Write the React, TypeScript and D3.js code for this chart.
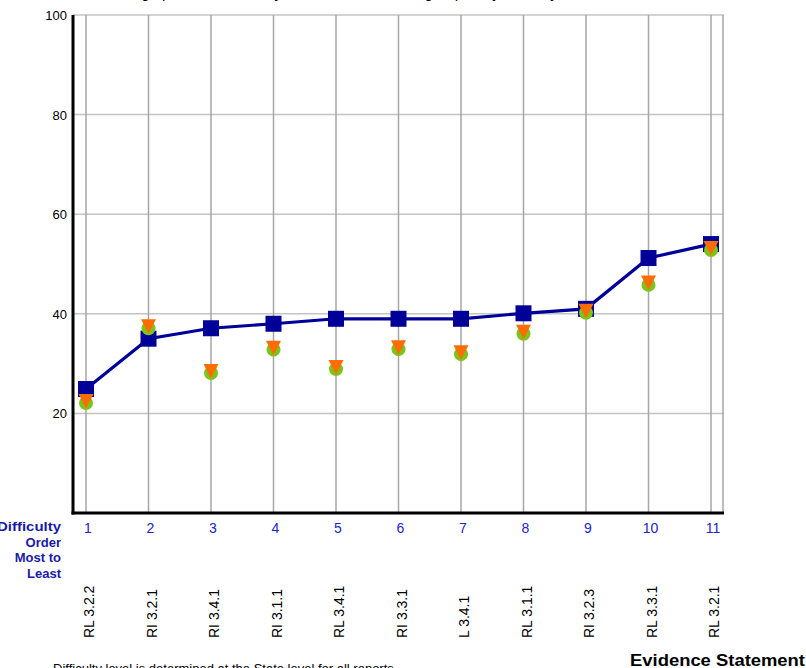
import React from "react";
import * as d3 from "d3";

const categories = [1, 2, 3, 4, 5, 6, 7, 8, 9, 10, 11];
const evidenceLabels = [
  "RL 3.2.2", "RI 3.2.1", "RI 3.4.1", "RI 3.1.1", "RL 3.4.1", "RI 3.3.1",
  "L 3.4.1", "RL 3.1.1", "RI 3.2.3", "RL 3.3.1", "RL 3.2.1",
];
const stateValues = [24.9, 35.0, 37.1, 38.0, 39.0, 39.0, 39.0, 40.1, 41.0, 51.2, 54.0];
const circleValues = [22.1, 37.1, 28.1, 32.8, 28.9, 32.9, 31.9, 36.0, 40.2, 45.8, 52.8];
const triangleValues = [22.3, 37.3, 28.3, 33.0, 29.1, 33.1, 32.1, 36.2, 40.4, 46.1, 53.0];
const yTicks = [20, 40, 60, 80, 100];
const difficultyLines = ["Difficulty", "Order", "Most to", "Least"];

const W = 806;
const H = 668;
const FONT = "Arial, 'Liberation Sans', Helvetica, sans-serif";

export default function App() {
  const x = d3.scalePoint<number>().domain(categories).range([86, 711]);
  const y = d3.scaleLinear().domain([0, 100]).range([513, 15]);
  const left = 73;
  const right = 724;
  const bottom = 513;
  const top = y(100);

  const lineGen = d3
    .line<number>()
    .x((_, i) => x(categories[i]) as number)
    .y((d) => y(d));

  const tri = "M -7.5 -8 L 7.5 -8 L 0 6.5 Z";

  return (
    <svg
      width={W}
      height={H}
      style={{ position: "absolute", left: 0, top: 0, background: "#fff" }}
      fontFamily={FONT}
    >
      {/* clipped title */}
      <text x={330} y={-2} fontSize={15} textAnchor="middle" fill="#000">
        Average percent correct by evidence statement, grouped by difficulty
      </text>

      {/* horizontal grid */}
      {yTicks.map((t) => (
        <line key={"h" + t} x1={left} x2={right} y1={y(t)} y2={y(t)} stroke="#c4c4c4" strokeWidth={1.5} />
      ))}
      {/* vertical grid */}
      {categories.map((c) => (
        <line key={"v" + c} x1={x(c)} x2={x(c)} y1={top} y2={bottom} stroke="#a6a6a6" strokeWidth={1.5} />
      ))}
      <line x1={right - 1} x2={right - 1} y1={top} y2={bottom} stroke="#a6a6a6" strokeWidth={1.5} />

      {/* axes */}
      <line x1={left} x2={left} y1={top} y2={bottom + 1.5} stroke="#000" strokeWidth={3} />
      <line x1={left - 1.5} x2={right} y1={bottom} y2={bottom} stroke="#000" strokeWidth={3} />

      {/* y tick labels */}
      {yTicks.map((t) => (
        <text key={"yl" + t} x={67} y={y(t) + 5} fontSize={13} textAnchor="end" fill="#000">
          {t}
        </text>
      ))}

      {/* series line */}
      <path d={lineGen(stateValues) || ""} fill="none" stroke="#000099" strokeWidth={3.2} />
      {stateValues.map((v, i) => (
        <rect
          key={"s" + i}
          x={(x(categories[i]) as number) - 8}
          y={y(v) - 8}
          width={16}
          height={16}
          fill="#000099"
        />
      ))}
      {circleValues.map((v, i) => (
        <circle key={"c" + i} cx={x(categories[i])} cy={y(v)} r={7} fill="#7cc41c" />
      ))}
      {triangleValues.map((v, i) => (
        <path
          key={"t" + i}
          d={tri}
          transform={`translate(${x(categories[i])},${y(v)})`}
          fill="#ff6c00"
        />
      ))}

      {/* x category numbers */}
      {categories.map((c) => (
        <text key={"xn" + c} x={(x(c) as number) + 2} y={533} fontSize={14} textAnchor="middle" fill="#2323c8">
          {c}
        </text>
      ))}

      {/* difficulty label */}
      {difficultyLines.map((s, i) => (
        <text
          key={"d" + i}
          x={61}
          y={531 + i * 15.5}
          fontSize={13}
          fontWeight="bold"
          textAnchor="end"
          fill="#1a1aa8"
          textLength={i === 0 ? 64 : undefined}
          lengthAdjust="spacingAndGlyphs"
        >
          {s}
        </text>
      ))}

      {/* rotated evidence labels */}
      {categories.map((c, i) => (
        <text
          key={"el" + c}
          transform={`translate(${(x(c) as number) + 8},638) rotate(-90)`}
          fontSize={14}
          textAnchor="start"
          fill="#000"
        >
          {evidenceLabels[i]}
        </text>
      ))}

      {/* footer */}
      <text x={53} y={673} fontSize={13} fill="#000">
        Difficulty level is determined at the State level for all reports
      </text>
      <text x={630} y={666} fontSize={17} fontWeight="bold" fill="#000" textLength={175} lengthAdjust="spacingAndGlyphs">
        Evidence Statement
      </text>
    </svg>
  );
}
